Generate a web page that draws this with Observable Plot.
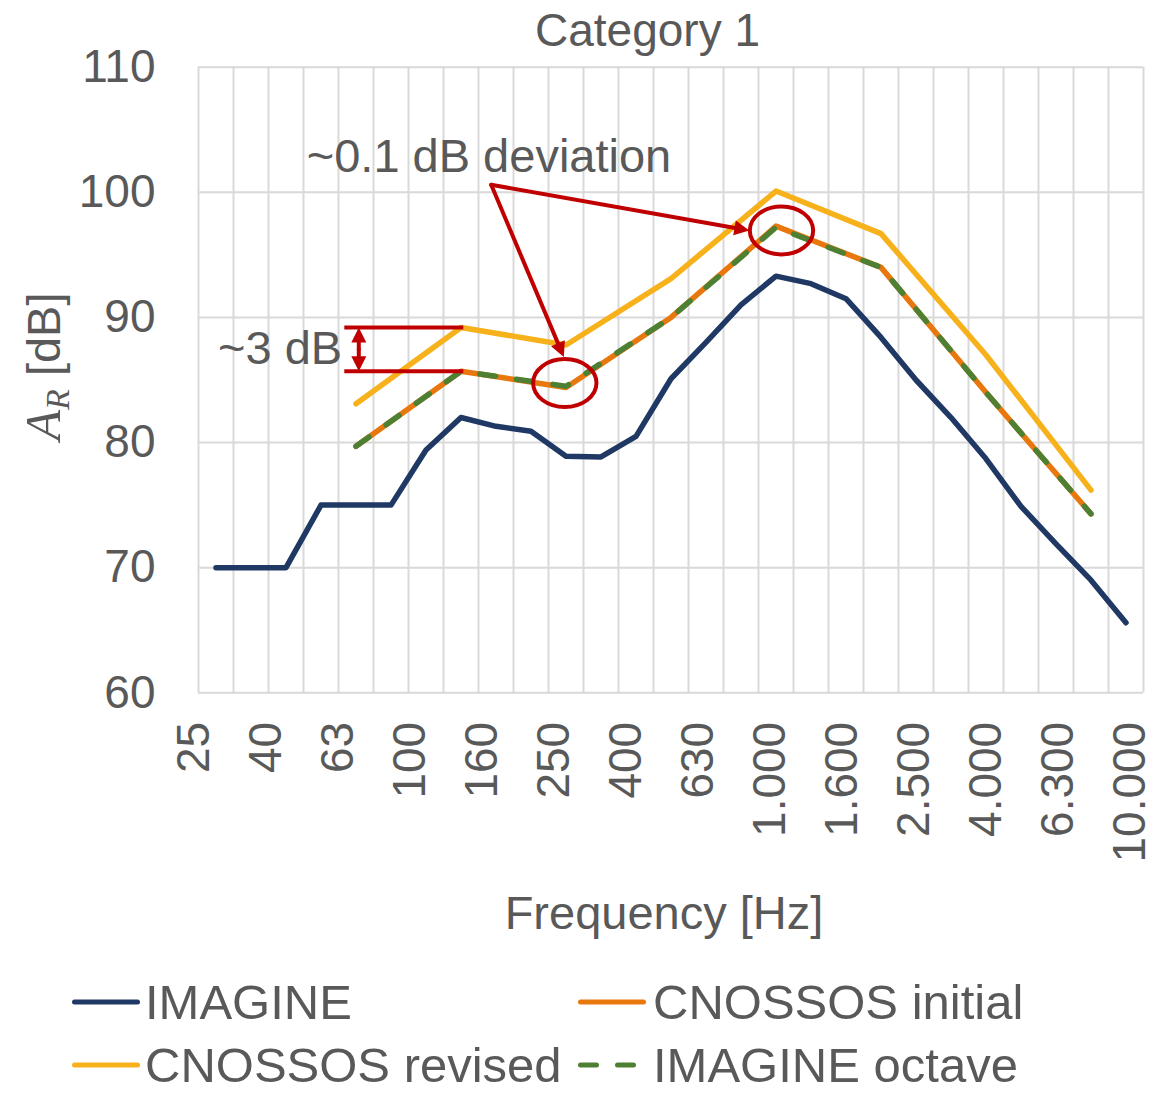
<!DOCTYPE html>
<html>
<head>
<meta charset="utf-8">
<script src="https://cdn.jsdelivr.net/npm/d3@7"></script>
<script src="https://cdn.jsdelivr.net/npm/@observablehq/plot@0.6"></script>
<style>
  body { margin: 0; background: #fff; }
  #wrap { position: relative; width: 1165px; height: 1094px; overflow: hidden;
          font-family: "Liberation Sans", Arial, sans-serif; color: #595959; background: #fff; }
  .leg { position: absolute; display: flex; align-items: center; font-size: 49px; line-height: 36px; white-space: nowrap; }
  .leg svg { display: block; flex: none; }
</style>
</head>
<body>
<div id="wrap"></div>
<script>
// ---------- data ----------
const bands = ["25","31.5","40","50","63","80","100","125","160","200","250","315","400","500",
               "630","800","1000","1250","1600","2000","2500","3150","4000","5000","6300","8000","10000"];
const imagine = [70, 70, 70, 75, 75, 75, 79.4, 82.0, 81.3, 80.9, 78.9, 78.85, 80.5, 85.1,
                 88.0, 91.0, 93.3, 92.7, 91.5, 88.4, 85.0, 82.0, 78.7, 74.9, 71.9, 69.0, 65.6];
const octaveBands = ["63","125","250","500","1000","2000","4000","8000"];
const cnossosInitial = [79.7, 85.7, 84.4, 90.0, 97.3, 94.0, 84.0, 74.3];
const cnossosRevised = [83.1, 89.2, 87.8, 93.1, 100.1, 96.7, 87.0, 76.2];
const imagineOctave  = [79.7, 85.7, 84.5, 90.0, 97.2, 94.0, 84.0, 74.3];
const yTicks = [60, 70, 80, 90, 100, 110];
const xTickLabels = ["25","40","63","100","160","250","400","630","1.000","1.600","2.500","4.000","6.300","10.000"];
const seriesNames = ["IMAGINE", "CNOSSOS initial", "CNOSSOS revised", "IMAGINE octave"];
const seriesColors = ["#1F3864", "#E8770E", "#F6B11B", "#4E8034"];

// annotation anchors (band index / dB)
const devNote = { x: 7.8, y: 102.8, text: "~0.1 dB deviation" };
const devArrows = [
  { x1: 7.863, y1: 100.6, x2: 15.237, y2: 96.95 },
  { x1: 7.863, y1: 100.6, x2: 9.937, y2: 86.83 }
];
const rings = [ { x: 9.966, y: 84.76 }, { x: 16.157, y: 96.95 } ];
const gapNote = { x1: 3.68, x2: 7.08, xa: 4.08, top: cnossosRevised[1], bottom: cnossosInitial[1],
                  text: "~3 dB", tx: 3.606, ty: 87.5 };

// ---------- tables ----------
const bandIndex = new Map(bands.map((b, i) => [b, i]));
const imagineRows = bands.map((band, i) => ({ band, value: imagine[i] }));
const octRows = vals => octaveBands.map((band, i) => ({ band, value: vals[i] }));
const X = d => bandIndex.get(d.band);
const boundaries = bands.map((b, i) => i - 0.5).concat([bands.length - 0.5]);

const red = "#C00000";
const grid = "#D9D9D9";
const textColor = "#595959";
const W = 1165, H = 950;
const mLeft = 198, mRight = 22;
const frameTop = 66.7, frameBottom = 692.3;
const xDomain = [-0.5, bands.length - 0.5], yDomain = [60, 110];

// scales used to orient arrowheads along their shafts
const sx = Plot.scale({ x: { type: "linear", domain: xDomain, range: [mLeft, W - mRight] } });
const sy = Plot.scale({ y: { type: "linear", domain: yDomain, range: [frameBottom, frameTop] } });
const heading = a => Math.atan2(sx.apply(a.x2) - sx.apply(a.x1), -(sy.apply(a.y2) - sy.apply(a.y1))) * 180 / Math.PI;

const gapMid = (gapNote.top + gapNote.bottom) / 2;
const gapArrows = [
  { x1: gapNote.xa, y1: gapMid, x2: gapNote.xa, y2: gapNote.top },
  { x1: gapNote.xa, y1: gapMid, x2: gapNote.xa, y2: gapNote.bottom }
];
const heads = devArrows.concat(gapArrows).map(a => ({ x: a.x2, y: a.y2, angle: heading(a) }));

const ellipse = {
  draw(ctx, size) {
    const r = Math.sqrt(size / Math.PI), rx = r * 1.32, ry = r, k = 0.5523;
    ctx.moveTo(rx, 0);
    ctx.bezierCurveTo(rx, ry * k, rx * k, ry, 0, ry);
    ctx.bezierCurveTo(-rx * k, ry, -rx, ry * k, -rx, 0);
    ctx.bezierCurveTo(-rx, -ry * k, -rx * k, -ry, 0, -ry);
    ctx.bezierCurveTo(rx * k, -ry, rx, -ry * k, rx, 0);
    ctx.closePath();
  }
};
const arrowHead = {
  draw(ctx, size) {
    const r = Math.sqrt(size / Math.PI);
    ctx.moveTo(0, 0);
    ctx.lineTo(-r * 0.5, r);
    ctx.lineTo(r * 0.5, r);
    ctx.closePath();
  }
};

const lineOpts = (color, extra = {}) => ({ x: X, y: "value", stroke: color, strokeWidth: 5.5,
  strokeLinecap: "round", strokeLinejoin: "round", ...extra });

const baseStyle = { fontFamily: '"Liberation Sans", Arial, sans-serif', fontSize: "46px", color: textColor,
                    background: "transparent", position: "absolute", left: "0px", top: "0px", overflow: "visible" };

const main = Plot.plot({
  width: W, height: H,
  marginLeft: mLeft, marginRight: mRight, marginTop: frameTop, marginBottom: H - frameBottom,
  style: baseStyle,
  x: { type: "linear", domain: xDomain, axis: null },
  y: { domain: yDomain, ticks: yTicks, tickSize: 0, tickPadding: 43, label: null },
  marks: [
    Plot.ruleY(yTicks, { stroke: grid, strokeWidth: 2 }),
    Plot.ruleX(boundaries, { stroke: grid, strokeWidth: 2 }),
    Plot.line(imagineRows, lineOpts(seriesColors[0])),
    Plot.line(octRows(cnossosInitial), lineOpts(seriesColors[1])),
    Plot.line(octRows(cnossosRevised), lineOpts(seriesColors[2])),
    Plot.line(octRows(imagineOctave), lineOpts(seriesColors[3], { strokeDasharray: "16,21" })),
    // annotations
    Plot.ruleY([gapNote.top, gapNote.bottom], { x1: () => gapNote.x1, x2: () => gapNote.x2, stroke: red, strokeWidth: 4 }),
    Plot.arrow(gapArrows, { x1: "x1", y1: "y1", x2: "x2", y2: "y2", stroke: red, strokeWidth: 4, headLength: 0, insetEnd: 8 }),
    Plot.arrow(devArrows, { x1: "x1", y1: "y1", x2: "x2", y2: "y2", stroke: red, strokeWidth: 4, headLength: 0, insetEnd: 10 }),
    Plot.dot(heads, { x: "x", y: "y", rotate: "angle", r: 15, symbol: arrowHead, fill: red, stroke: "none" }),
    Plot.dot(rings, { x: "x", y: "y", r: 24, symbol: ellipse, stroke: red, strokeWidth: 4, fill: "none" }),
    Plot.text([gapNote], { x: "tx", y: "ty", text: "text", textAnchor: "end", fontSize: 47, fill: textColor }),
    Plot.text([devNote], { x: "x", y: "y", text: "text", fontSize: 47, fill: textColor }),
    // titles
    Plot.text(["Category 1"], { text: d => d, frameAnchor: "top", textAnchor: "middle", lineAnchor: "middle",
                                dx: -23.5, dy: -36.4, fontSize: 46, fill: textColor }),
    Plot.text(["Frequency [Hz]"], { text: d => d, frameAnchor: "bottom", textAnchor: "middle", lineAnchor: "middle",
                                    dx: -7, dy: 220.7, fontSize: 47, fill: textColor }),
    Plot.text(["A_R [dB]"], { text: d => d, frameAnchor: "left", textAnchor: "middle", lineAnchor: "middle",
                              rotate: -90, dx: -154, dy: -13.5, fontSize: 47, fill: textColor })
  ]
});

// x tick labels (Excel spreads them evenly across the axis)
const xAxis = Plot.plot({
  width: W, height: H,
  marginLeft: 193, marginRight: 35, marginTop: frameTop, marginBottom: H - frameBottom,
  style: baseStyle,
  x: { type: "point", domain: xTickLabels, padding: 0, label: null },
  marks: [ Plot.axisX({ tickRotate: -90, tickSize: 0, tickPadding: 29, fontSize: 46, label: null }) ]
});

// y-axis title with italic math A_R
const yl = Array.from(main.querySelectorAll("text")).find(t => t.textContent === "A_R [dB]");
if (yl) {
  yl.textContent = "";
  const ns = "http://www.w3.org/2000/svg";
  const mk = (txt, attrs) => { const t = document.createElementNS(ns, "tspan"); t.textContent = txt;
    for (const k in attrs) t.setAttribute(k, attrs[k]); yl.appendChild(t); };
  const serif = '"Liberation Serif", "DejaVu Serif", serif';
  mk("A", { "font-family": serif, "font-style": "italic", "font-size": "50" });
  mk("R", { "font-family": serif, "font-style": "italic", "font-size": "34", dy: "0.28em" });
  mk(" [dB]", { dy: "-0.2em" });
}

const wrap = document.getElementById("wrap");
wrap.appendChild(main);
wrap.appendChild(xAxis);

// legend
const legendPos = [ { left: 72, top: 984.4 }, { left: 578, top: 984.4 }, { left: 72, top: 1047.4 }, { left: 578, top: 1047.4 } ];
const legendGap = [5, 7, 5, 7];
seriesNames.forEach((name, i) => {
  const div = document.createElement("div");
  div.className = "leg";
  div.style.left = legendPos[i].left + "px";
  div.style.top = legendPos[i].top + "px";
  const dashed = name === "IMAGINE octave";
  div.innerHTML = `<svg width="68" height="10" viewBox="0 0 68 10"><line x1="2.5" y1="5" x2="${dashed ? 64 : 65.5}" y2="5" stroke="${seriesColors[i]}" stroke-width="5" stroke-linecap="round" ${dashed ? 'stroke-dasharray="16,21"' : ''}/></svg><span style="margin-left:${legendGap[i]}px">${name}</span>`;
  wrap.appendChild(div);
});
</script>
</body>
</html>
